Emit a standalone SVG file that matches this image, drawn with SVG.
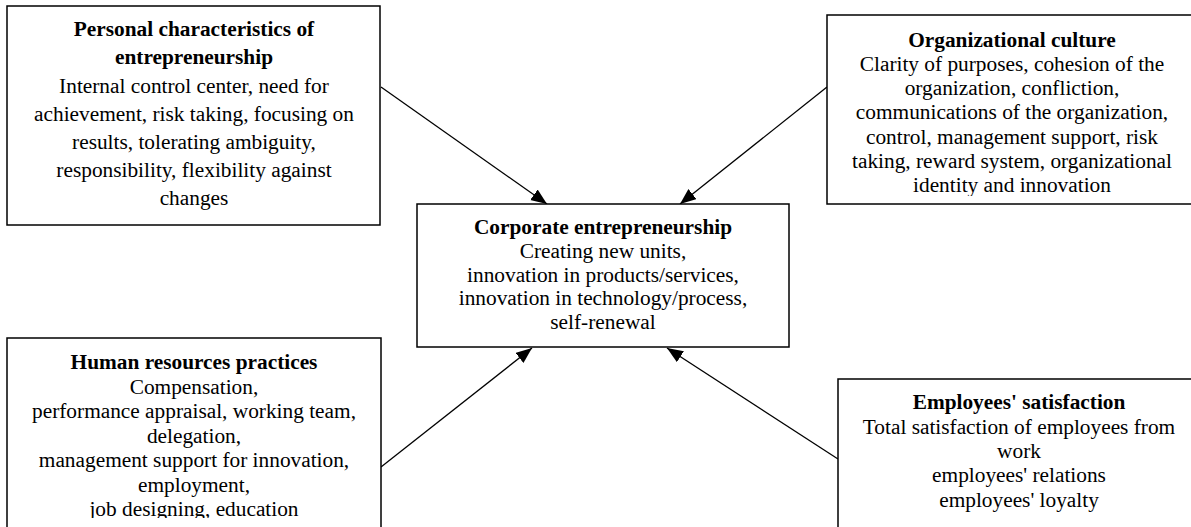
<svg xmlns="http://www.w3.org/2000/svg" width="1191" height="527" viewBox="0 0 1191 527">
<style>
.box{fill:#fff;stroke:#000;stroke-width:1.5}
text{font-family:"Liberation Serif","Times New Roman",serif;font-size:21.33px;fill:#000;text-anchor:middle}
.t{font-weight:bold}
.edge{stroke:#000;stroke-width:1.3;fill:none;marker-end:url(#arr)}
</style>
<defs>
<marker id="arr" markerUnits="userSpaceOnUse" markerWidth="18" markerHeight="14" refX="16" refY="6.5" orient="auto">
<path d="M0,0 L16,6.5 L0,13 z" fill="#000"/>
</marker>
<clipPath id="c2"><rect x="827" y="15" width="380" height="181"/></clipPath>
<clipPath id="c3"><rect x="7" y="338" width="374" height="180"/></clipPath>
</defs>
<g id="connectors">
<line class="edge" x1="381" y1="87" x2="547" y2="204"/>
<line class="edge" x1="827" y1="87" x2="680" y2="204"/>
<line class="edge" x1="381" y1="467" x2="532" y2="348"/>
<line class="edge" x1="838" y1="459" x2="667" y2="348"/>
</g>
<g id="personal">
<rect class="box" x="7" y="6" width="373" height="219"/>
<text class="t" x="194" y="36">Personal characteristics of</text>
<text class="t" x="194" y="64">entrepreneurship</text>
<text x="194" y="92.5">Internal control center, need for</text>
<text x="194" y="120.5">achievement, risk taking, focusing on</text>
<text x="194" y="148.5">results, tolerating ambiguity,</text>
<text x="194" y="176.5">responsibility, flexibility against</text>
<text x="194" y="204.5">changes</text>
</g>
<g id="culture">
<rect class="box" x="827" y="15" width="380" height="189"/>
<g clip-path="url(#c2)">
<text class="t" x="1012" y="46.5">Organizational culture</text>
<text x="1012" y="70.8">Clarity of purposes, cohesion of the</text>
<text x="1012" y="95.1">organization, confliction,</text>
<text x="1012" y="119.4">communications of the organization,</text>
<text x="1012" y="143.7">control, management support, risk</text>
<text x="1012" y="168">taking, reward system, organizational</text>
<text x="1012" y="192.3">identity and innovation</text>
</g>
</g>
<g id="corporate">
<rect class="box" x="417" y="204" width="372" height="143"/>
<text class="t" x="603" y="234">Corporate entrepreneurship</text>
<text x="603" y="257.8">Creating new units,</text>
<text x="603" y="281.6">innovation in products/services,</text>
<text x="603" y="305.4">innovation in technology/process,</text>
<text x="603" y="329.2">self-renewal</text>
</g>
<g id="hr">
<rect class="box" x="7" y="338" width="374" height="200"/>
<g clip-path="url(#c3)">
<text class="t" x="194" y="369">Human resources practices</text>
<text x="194" y="393.5">Compensation,</text>
<text x="194" y="418">performance appraisal, working team,</text>
<text x="194" y="442.5">delegation,</text>
<text x="194" y="467">management support for innovation,</text>
<text x="194" y="491.5">employment,</text>
<text x="194" y="516">job designing, education</text>
</g>
</g>
<g id="satisfaction">
<rect class="box" x="838" y="379" width="370" height="160"/>
<text class="t" x="1019" y="409.3">Employees' satisfaction</text>
<text x="1019" y="433.6">Total satisfaction of employees from</text>
<text x="1019" y="457.9">work</text>
<text x="1019" y="482.2">employees' relations</text>
<text x="1019" y="506.5">employees' loyalty</text>
</g>
</svg>
